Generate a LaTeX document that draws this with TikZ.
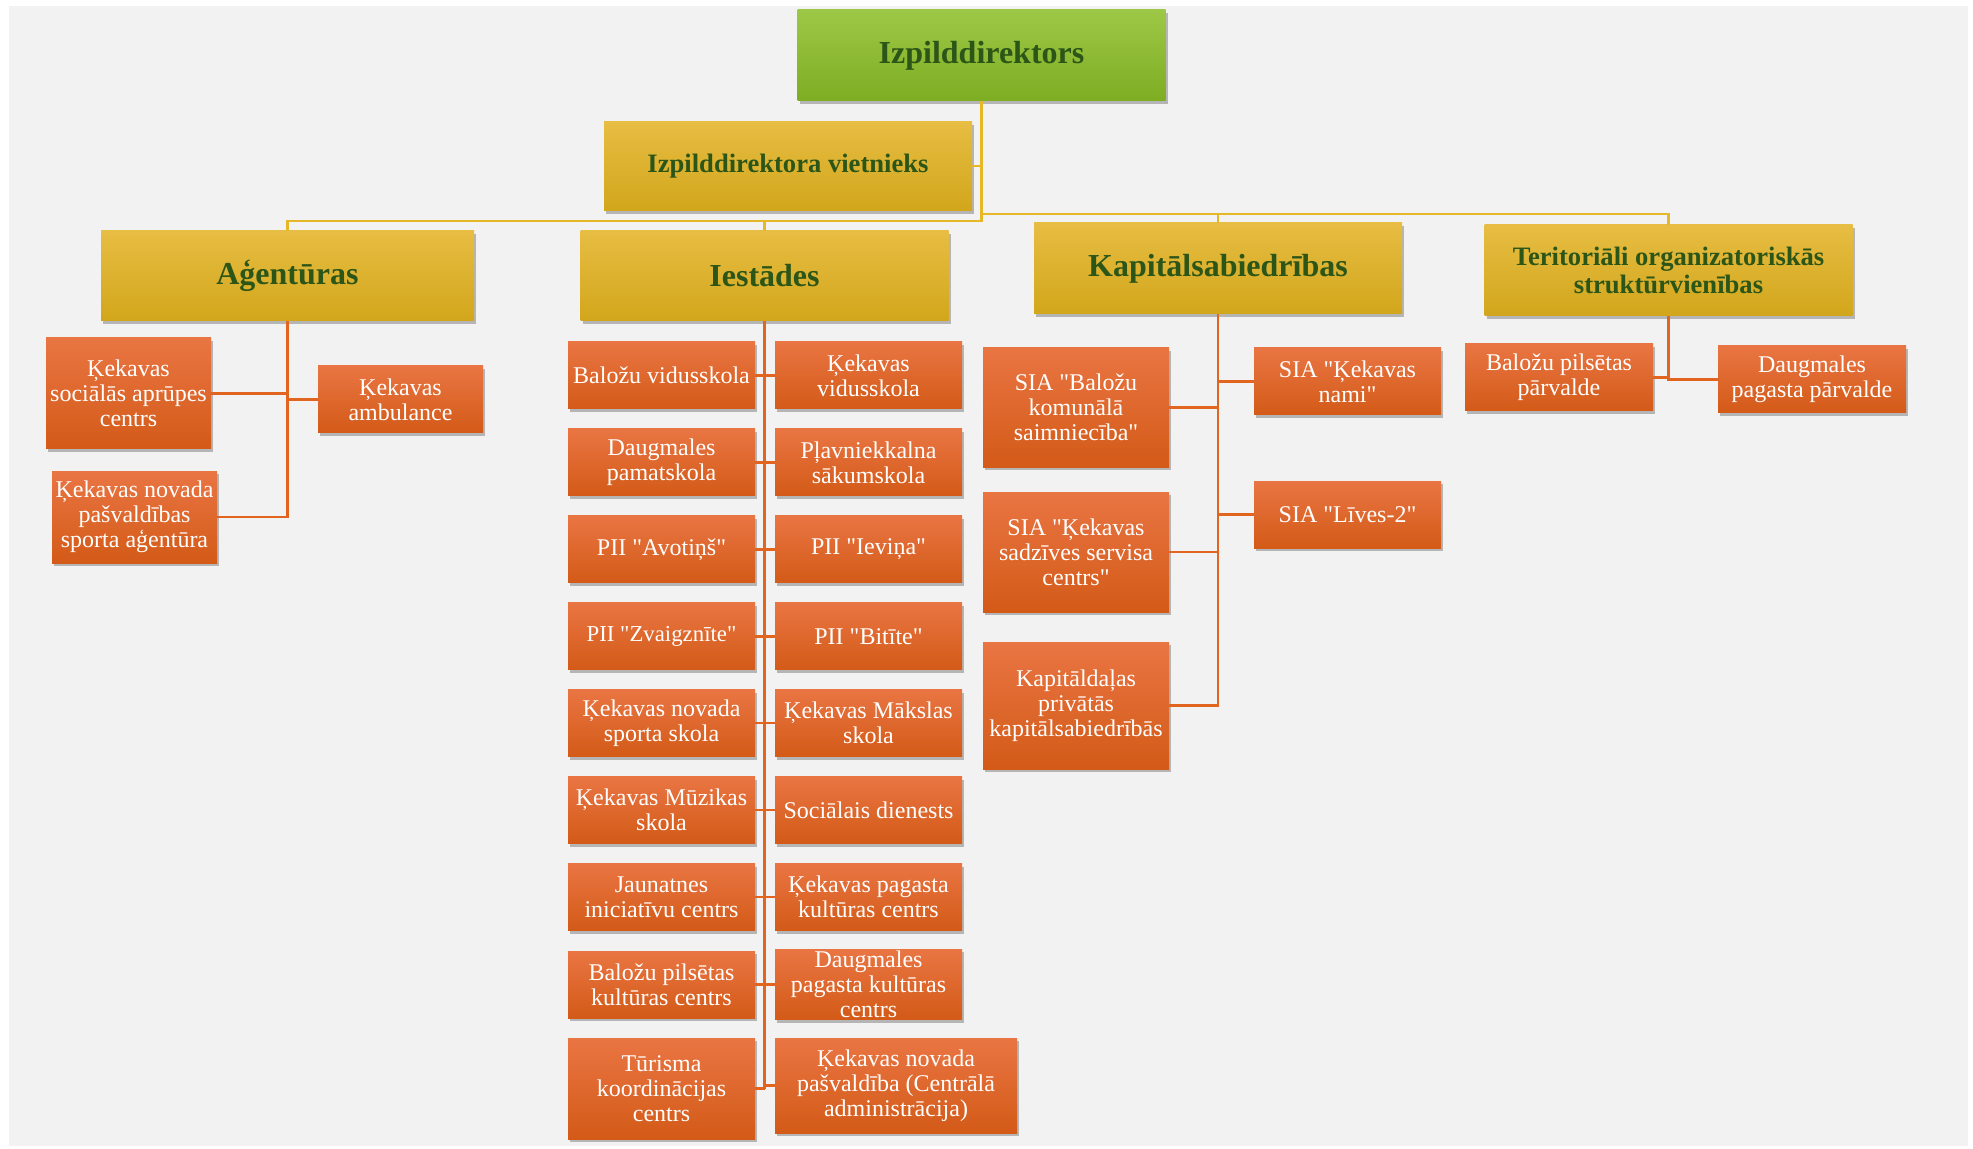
\documentclass[tikz,border=0pt]{standalone}
\usepackage{fontspec}
\setmainfont{Liberation Serif}[Ligatures=TeXOff]
\usepackage{tikz}
\usetikzlibrary{shadows}

\definecolor{bgGray}{HTML}{F2F2F2}
\definecolor{dirTop}{HTML}{9DC847}
\definecolor{dirBot}{HTML}{7EAC22}
\definecolor{goldTop}{HTML}{E7BD43}
\definecolor{goldBot}{HTML}{D2A61B}
\definecolor{orTop}{HTML}{E97543}
\definecolor{orBot}{HTML}{D35A17}
\definecolor{headText}{HTML}{2C5518}
\definecolor{goldLine}{HTML}{E6B826}
\definecolor{orLine}{HTML}{E2651F}

\tikzset{
	box/.style={rectangle, inner sep=1pt, align=center,
		drop shadow={shadow xshift=1pt, shadow yshift=-1.6pt, opacity=0.25, fill=black}},
	headbox/.style={box, top color=goldTop, bottom color=goldBot, text=headText,
		font=\bfseries\fontsize{16}{18}\selectfont, minimum width=184pt, minimum height=45.5pt},
	unitbox/.style={box, top color=orTop, bottom color=orBot, text=white,
		font=\fontsize{12}{12.4}\selectfont, minimum width=93.5pt, minimum height=33.5pt},
	goldwire/.style={draw=goldLine, line width=1.3pt},
	orwire/.style={draw=orLine, line width=1.3pt},
}

\begin{document}
\begin{tikzpicture}[x=0.5pt, y=-0.5pt]
	\useasboundingbox (0,0) rectangle (1973,1149);
	\fill[white] (0,0) rectangle (1973,1149);
	\fill[bgGray] (9,6) rectangle (1968,1146);

	% top level
	\node[headbox, top color=dirTop, bottom color=dirBot] (dir) at (981.5,55.5) {Izpilddirektors};
	\node[headbox, minimum height=44.5pt, font=\bfseries\fontsize{13.3}{15}\selectfont] (vice) at (788,166) {Izpilddirektora vietnieks};

	\node[headbox, minimum width=186.5pt, minimum height=45pt] (agent) at (287.5,276) {Aģentūras};
	\node[headbox, minimum height=45pt] (iest) at (764.5,276) {Iestādes};
	\node[headbox] (kap) at (1218,268.5) {Kapitālsabiedrības};
	\node[headbox, font=\bfseries\fontsize{13.3}{13.9}\selectfont] (terit) at (1668.5,270.5) {Teritoriāli organizatoriskās\\struktūrvienības};

	% agentuuras
	\node[unitbox, minimum width=82.5pt, minimum height=55.5pt] (a1) at (128.5,393.5) {Ķekavas\\sociālās aprūpes\\centrs};
	\node[unitbox, minimum width=82.5pt] (a2) at (400.5,399.5) {Ķekavas\\ambulance};
	\node[unitbox, minimum width=82.5pt, minimum height=46pt] (a3) at (134.5,517) {Ķekavas novada\\pašvaldības\\sporta aģentūra};

	% iestaades
	\node[unitbox] (i1l) at (661.5,375.5) {Baložu vidusskola};
	\node[unitbox] (i1r) at (868.5,375.5) {Ķekavas\\vidusskola};
	\node[unitbox] (i2l) at (661.5,462.4) {Daugmales\\pamatskola};
	\node[unitbox] (i2r) at (868.5,462.4) {Pļavniekkalna\\sākumskola};
	\node[unitbox] (i3l) at (661.5,549.3) {PII "Avotiņš"};
	\node[unitbox] (i3r) at (868.5,549.3) {PII "Ieviņa"};
	\node[unitbox, font=\fontsize{11.4}{12}\selectfont] (i4l) at (661.5,636.2) {PII "Zvaigznīte"};
	\node[unitbox] (i4r) at (868.5,636.2) {PII "Bitīte"};
	\node[unitbox] (i5l) at (661.5,723.1) {Ķekavas novada\\sporta skola};
	\node[unitbox] (i5r) at (868.5,723.1) {Ķekavas Mākslas\\skola};
	\node[unitbox] (i6l) at (661.5,810) {Ķekavas Mūzikas\\skola};
	\node[unitbox] (i6r) at (868.5,810) {Sociālais dienests};
	\node[unitbox] (i7l) at (661.5,896.9) {Jaunatnes\\iniciatīvu centrs};
	\node[unitbox] (i7r) at (868.5,896.9) {Ķekavas pagasta\\kultūras centrs};
	\node[unitbox] (i8l) at (661.5,984.5) {Baložu pilsētas\\kultūras centrs};
	\node[unitbox] (i8r) at (868.5,984.5) {Daugmales\\pagasta kultūras\\centrs};
	\node[unitbox, minimum height=50.5pt] (i9l) at (661.5,1088.5) {Tūrisma\\koordinācijas\\centrs};
	\node[unitbox, minimum width=121pt, minimum height=47.5pt] (i9r) at (896,1085.5) {Ķekavas novada\\pašvaldība (Centrālā\\administrācija)};

	% kapitaalsabiedriibas
	\node[unitbox, minimum width=93pt, minimum height=59.5pt] (k1) at (1076,407.5) {SIA "Baložu\\komunālā\\saimniecība"};
	\node[unitbox] (k2) at (1347.5,381.5) {SIA "Ķekavas\\nami"};
	\node[unitbox, minimum width=93pt, minimum height=60pt] (k3) at (1076,552) {SIA "Ķekavas\\sadzīves servisa\\centrs"};
	\node[unitbox] (k4) at (1347.5,514.5) {SIA "Līves-2"};
	\node[unitbox, minimum width=93pt, minimum height=63.5pt] (k5) at (1076,705.5) {Kapitāldaļas\\privātās\\kapitālsabiedrībās};

	% teritoriaalaas
	\node[unitbox, minimum width=94pt] (t1) at (1559,377.5) {Baložu pilsētas\\pārvalde};
	\node[unitbox, minimum width=94pt] (t2) at (1812,379.5) {Daugmales\\pagasta pārvalde};

	% gold lines
	\coordinate (hubL) at (981.5,221);
	\coordinate (hubR) at (981.5,214);
	\draw[goldwire] (dir.south) -- (hubL) -| (agent.north);
	\draw[goldwire] (hubL) -| (iest.north);
	\draw[goldwire] (vice.east) -- (vice.east -| hubL);
	\draw[goldwire] (hubR) -| (kap.north);
	\draw[goldwire] (kap.north |- hubR) -| (terit.north);

	% orange lines
	\draw[orwire] (agent.south) |- (a3.east);
	\draw[orwire] (a1.east) -- (a1.east -| agent.south);
	\draw[orwire] (a2.west) -- (a2.west -| agent.south);

	\draw[orwire] (iest.south) -- (iest.south |- i9l.east);
	\draw[orwire] (i1l.east) -- (i1r.west);
	\draw[orwire] (i2l.east) -- (i2r.west);
	\draw[orwire] (i3l.east) -- (i3r.west);
	\draw[orwire] (i4l.east) -- (i4r.west);
	\draw[orwire] (i5l.east) -- (i5r.west);
	\draw[orwire] (i6l.east) -- (i6r.west);
	\draw[orwire] (i7l.east) -- (i7r.west);
	\draw[orwire] (i8l.east) -- (i8r.west);
	\draw[orwire] (i9l.east) -- (i9l.east -| iest.south);
	\draw[orwire] (i9r.west) -- (i9r.west -| iest.south);

	\draw[orwire] (kap.south) |- (k5.east);
	\draw[orwire] (k1.east) -- (k1.east -| kap.south);
	\draw[orwire] (k2.west) -- (k2.west -| kap.south);
	\draw[orwire] (k3.east) -- (k3.east -| kap.south);
	\draw[orwire] (k4.west) -- (k4.west -| kap.south);

	\draw[orwire] (terit.south) |- (t2.west);
	\draw[orwire] (t1.east) -- (t1.east -| terit.south);
\end{tikzpicture}
\end{document}
